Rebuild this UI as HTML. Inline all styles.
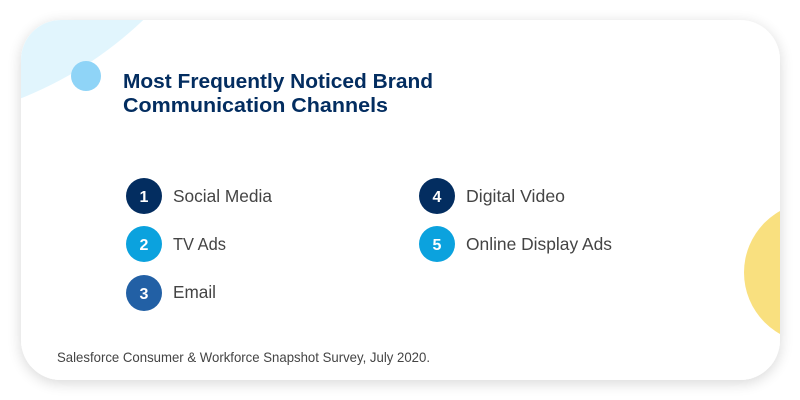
<!DOCTYPE html>
<html>
<head>
<meta charset="utf-8">
<style>
html,body{margin:0;padding:0;background:#ffffff;width:800px;height:400px;overflow:hidden;}
svg{display:block;}
</style>
</head>
<body>
<svg width="800" height="400" viewBox="0 0 800 400" xmlns="http://www.w3.org/2000/svg">
  <defs>
    <filter id="sh" x="-10%" y="-20%" width="120%" height="140%">
      <feGaussianBlur in="SourceAlpha" stdDeviation="7"/>
      <feOffset dx="0" dy="3" result="b"/>
      <feComponentTransfer><feFuncA type="linear" slope="0.16"/></feComponentTransfer>
      <feMerge><feMergeNode/><feMergeNode in="SourceGraphic"/></feMerge>
    </filter>
    <clipPath id="card">
      <rect x="21" y="20" width="759" height="360" rx="40" ry="40"/>
    </clipPath>
  </defs>
  <rect x="21" y="20" width="759" height="360" rx="40" ry="40" fill="#ffffff" filter="url(#sh)"/>
  <g clip-path="url(#card)">
    <circle cx="-119" cy="-255" r="380" fill="#e1f5fd"/>
    <circle cx="814.5" cy="272.5" r="70.5" fill="#f9e07f"/>
  </g>
  <circle cx="86" cy="76" r="15" fill="#8fd4f7"/>

  <g font-family="Liberation Sans, sans-serif" font-weight="bold" font-size="20.5" fill="#032d60">
    <text x="123" y="88" textLength="310" lengthAdjust="spacingAndGlyphs">Most Frequently Noticed Brand</text>
    <text x="123" y="112" textLength="265" lengthAdjust="spacingAndGlyphs">Communication Channels</text>
  </g>

  <circle cx="144" cy="196" r="18" fill="#032d60"/>
  <circle cx="144" cy="244" r="18" fill="#0ba2de"/>
  <circle cx="144" cy="293" r="18" fill="#2260a5"/>
  <circle cx="437" cy="196" r="18" fill="#032d60"/>
  <circle cx="437" cy="244" r="18" fill="#0ba2de"/>

  <g font-family="Liberation Sans, sans-serif" font-weight="bold" font-size="16" fill="#ffffff" text-anchor="middle">
    <text x="144" y="202">1</text>
    <text x="144" y="250">2</text>
    <text x="144" y="299">3</text>
    <text x="437" y="202">4</text>
    <text x="437" y="250">5</text>
  </g>

  <g font-family="Liberation Sans, sans-serif" font-size="17.5" fill="#444444">
    <text x="173" y="202" textLength="99" lengthAdjust="spacingAndGlyphs">Social Media</text>
    <text x="173" y="250" textLength="53" lengthAdjust="spacingAndGlyphs">TV Ads</text>
    <text x="173" y="298" textLength="43" lengthAdjust="spacingAndGlyphs">Email</text>
    <text x="466" y="202" textLength="99" lengthAdjust="spacingAndGlyphs">Digital Video</text>
    <text x="466" y="250" textLength="146" lengthAdjust="spacingAndGlyphs">Online Display Ads</text>
  </g>

  <text x="57" y="362" font-family="Liberation Sans, sans-serif" font-size="14" fill="#444444" textLength="373" lengthAdjust="spacingAndGlyphs">Salesforce Consumer &amp; Workforce Snapshot Survey, July 2020.</text>
</svg>
</body>
</html>
